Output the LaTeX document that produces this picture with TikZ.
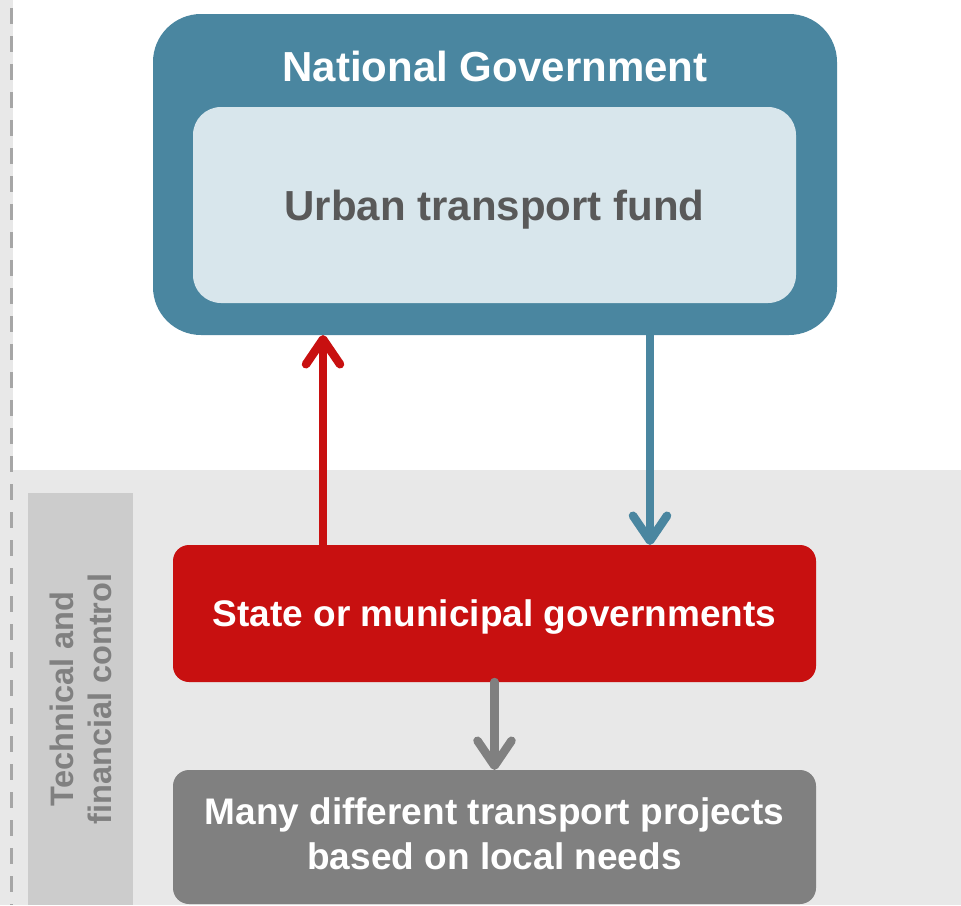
\documentclass[tikz,border=0pt]{standalone}
\usepackage{fontspec}
\setmainfont{Liberation Sans}
\usetikzlibrary{arrows.meta}
\definecolor{govblue}{RGB}{74,134,160}
\definecolor{fundblue}{RGB}{216,230,236}
\definecolor{statered}{RGB}{200,16,16}
\definecolor{projgray}{RGB}{128,128,128}
\definecolor{panelgray}{RGB}{232,232,232}
\definecolor{tagray}{RGB}{204,204,204}
\definecolor{darktext}{RGB}{89,89,89}
\tikzset{%
  x=1pt,y=-1pt,
  box/.style={rectangle,inner sep=0pt,outer sep=0pt,align=center,
    font=\fontsize{37}{45}\selectfont\bfseries},
  flow/.style={line width=8.5pt,line cap=round,line join=round,
    -{Straight Barb[length=25pt,width=34pt,round]}}%
}
\begin{document}
\begin{tikzpicture}

%definitions
\def\W{961} % picture width
\def\H{905} % picture height
\def\panelTop{470} % top of lower panel
\clip (0,0) rectangle (\W,\H);
\fill[white] (0,0) rectangle (\W,\H);
\fill[panelgray] (0,0) rectangle (13,\H);
\fill[panelgray] (0,\panelTop) rectangle (\W,\H);
\draw[line width=3pt,color=black!35,dash pattern=on 16pt off 12pt]
  (11.5,8) -- (11.5,\H);
\coordinate (upx) at (323,0);
\coordinate (downx) at (650,0);

%boxes
\node[box,fill=govblue,rounded corners=48pt,minimum width=684pt,
  minimum height=321pt] (natgov) at (495,174.5) {};
\node[box,text=white,font=\fontsize{42}{50}\selectfont\bfseries,text depth=0pt]
  (natgovlabel) at (495,66) {National Government};
\node[box,fill=fundblue,text=darktext,rounded corners=28pt,text depth=0pt,
  font=\fontsize{42}{50}\selectfont\bfseries,minimum width=603pt,
  minimum height=196pt] (fund) at (494.5,205) {Urban transport fund};
\node[box,fill=statered,text=white,rounded corners=16pt,text depth=0pt,
  minimum width=643pt,minimum height=137pt]
  (state) at (494.5,613.5) {State or municipal governments};
\node[box,fill=projgray,text=white,rounded corners=16pt,
  minimum width=643pt,minimum height=134pt]
  (projects) at (494.5,837) {Many different transport projects\\based on local needs\rule[-6pt]{0pt}{0pt}};
\node[box,fill=tagray,text=black!50,minimum width=412pt,minimum height=105pt,
  rotate=90,font=\fontsize{32.5}{38}\selectfont\bfseries]
  (control) at (80.5,699) {Technical and\\financial control};

%arrows
\draw[flow,statered] (state.north -| upx) -- (natgov.south -| upx);
\draw[flow,govblue] (natgov.south -| downx) -- (state.north -| downx);
\draw[flow,projgray] (state) -- (projects);

\end{tikzpicture}
\end{document}
